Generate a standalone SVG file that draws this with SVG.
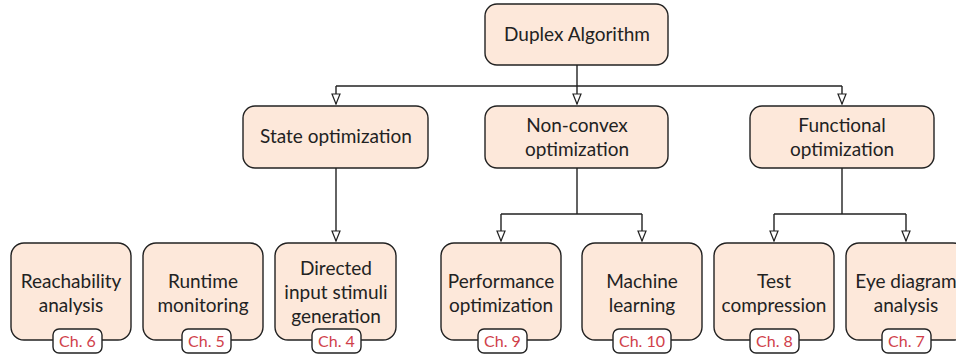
<svg xmlns="http://www.w3.org/2000/svg" width="956" height="356" viewBox="0 0 956 356">
<defs>
<marker id="arr" markerWidth="12" markerHeight="10" refX="11" refY="5" orient="auto" markerUnits="userSpaceOnUse" viewBox="0 0 12 10">
<path d="M1,1 L11,5 L1,9 Z" fill="#fff" stroke="#222" stroke-width="1.2" stroke-linejoin="miter"/>
</marker>
<style>
.box{fill:#fde8da;stroke:#222;stroke-width:1.4}
.badge{fill:#fff;stroke:#222;stroke-width:1.4}
.t{font-family:Lato,"Open Sans","DejaVu Sans",sans-serif;font-size:19px;fill:#222;text-anchor:middle}
.ch{font-family:Lato,"Open Sans","DejaVu Sans",sans-serif;font-size:16px;fill:#d0404a;text-anchor:middle}
.c{fill:none;stroke:#222;stroke-width:1.4}
</style>
</defs>
<g id="connectors">
<path class="c" d="M577,65 V86"/>
<path class="c" d="M336,86 H842"/>
<path class="c" d="M336,86 V104" marker-end="url(#arr)"/>
<path class="c" d="M577,86 V104" marker-end="url(#arr)"/>
<path class="c" d="M842,86 V104" marker-end="url(#arr)"/>
<path class="c" d="M336,168 V241" marker-end="url(#arr)"/>
<path class="c" d="M577,168 V214 M501,214 H642"/>
<path class="c" d="M501,214 V241" marker-end="url(#arr)"/>
<path class="c" d="M642,214 V241" marker-end="url(#arr)"/>
<path class="c" d="M842,168 V214 M774,214 H906"/>
<path class="c" d="M774,214 V241" marker-end="url(#arr)"/>
<path class="c" d="M906,214 V241" marker-end="url(#arr)"/>
</g>
<g id="duplex">
<rect class="box" x="485" y="4" width="183" height="61" rx="12"/>
<text class="t" x="577" y="41">Duplex Algorithm</text>
</g>
<g id="state">
<rect class="box" x="243" y="106" width="185" height="62" rx="12"/>
<text class="t" x="336" y="143">State optimization</text>
</g>
<g id="nonconvex">
<rect class="box" x="485" y="106" width="183" height="62" rx="12"/>
<text class="t" x="577" y="132">Non-convex</text>
<text class="t" x="577" y="156">optimization</text>
</g>
<g id="functional">
<rect class="box" x="750" y="106" width="184" height="62" rx="12"/>
<text class="t" x="842" y="132">Functional</text>
<text class="t" x="842" y="156">optimization</text>
</g>
<g id="reach">
<rect class="box" x="11" y="243" width="120" height="97" rx="13"/>
<text class="t" x="71" y="288">Reachability</text>
<text class="t" x="71" y="312">analysis</text>
<rect class="badge" x="53" y="329" width="49" height="24" rx="6"/>
<text class="ch" x="77.5" y="347">Ch. 6</text>
</g>
<g id="runtime">
<rect class="box" x="143" y="243" width="120" height="97" rx="13"/>
<text class="t" x="203" y="288">Runtime</text>
<text class="t" x="203" y="312">monitoring</text>
<rect class="badge" x="182" y="329" width="49" height="24" rx="6"/>
<text class="ch" x="206.5" y="347">Ch. 5</text>
</g>
<g id="directed">
<rect class="box" x="275" y="243" width="121" height="97" rx="13"/>
<text class="t" x="336" y="275">Directed</text>
<text class="t" x="336" y="299">input stimuli</text>
<text class="t" x="336" y="323">generation</text>
<rect class="badge" x="312" y="329" width="49" height="24" rx="6"/>
<text class="ch" x="336.5" y="347">Ch. 4</text>
</g>
<g id="performance">
<rect class="box" x="441" y="243" width="120" height="97" rx="13"/>
<text class="t" x="501" y="288">Performance</text>
<text class="t" x="501" y="312">optimization</text>
<rect class="badge" x="478" y="329" width="49" height="24" rx="6"/>
<text class="ch" x="502.5" y="347">Ch. 9</text>
</g>
<g id="ml">
<rect class="box" x="582" y="243" width="120" height="97" rx="13"/>
<text class="t" x="642" y="288">Machine</text>
<text class="t" x="642" y="312">learning</text>
<rect class="badge" x="613" y="329" width="58" height="24" rx="6"/>
<text class="ch" x="642" y="347">Ch. 10</text>
</g>
<g id="test">
<rect class="box" x="714" y="243" width="120" height="97" rx="13"/>
<text class="t" x="774" y="288">Test</text>
<text class="t" x="774" y="312">compression</text>
<rect class="badge" x="750" y="329" width="49" height="24" rx="6"/>
<text class="ch" x="774.5" y="347">Ch. 8</text>
</g>
<g id="eye">
<rect class="box" x="846" y="243" width="120" height="97" rx="13"/>
<text class="t" x="906" y="288">Eye diagram</text>
<text class="t" x="906" y="312">analysis</text>
<rect class="badge" x="882" y="329" width="49" height="24" rx="6"/>
<text class="ch" x="906.5" y="347">Ch. 7</text>
</g>
</svg>
